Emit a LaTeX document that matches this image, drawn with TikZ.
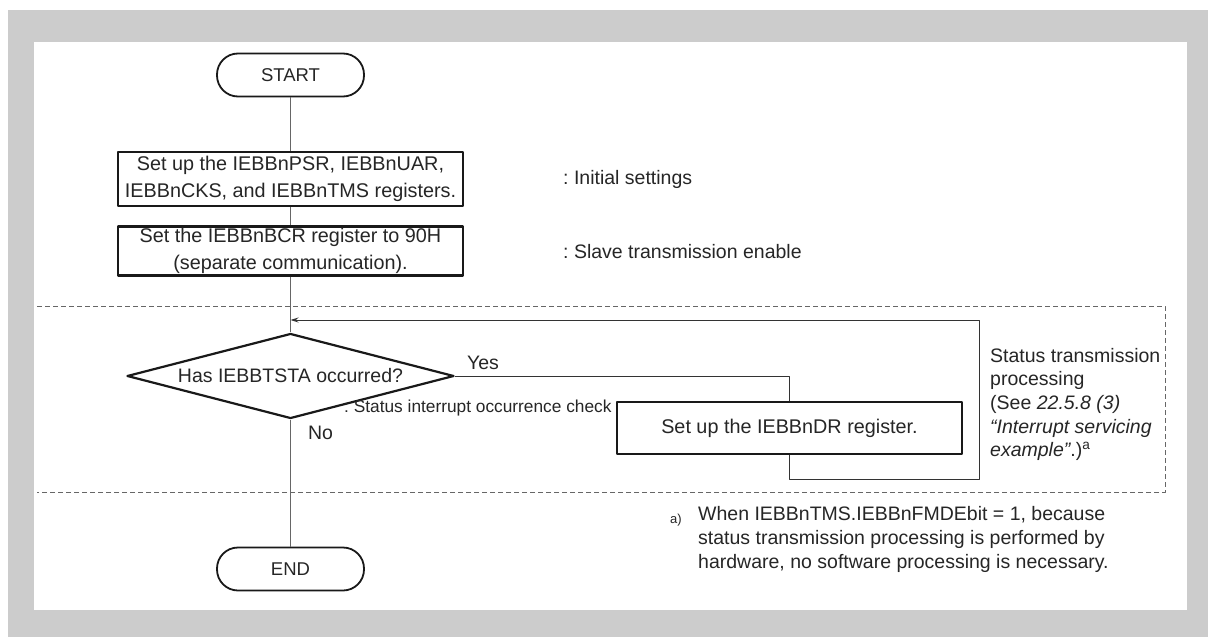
\documentclass[tikz,border=0pt]{standalone}
\usepackage{fontspec}
\setmainfont{Liberation Sans}
\usetikzlibrary{shapes.geometric,arrows.meta}
\frenchspacing
\begin{document}
\begin{tikzpicture}[x=1pt, y=-1pt, line join=round, >={Stealth[length=8pt,width=5pt]},
	font=\fontsize{19.5}{23.7}\selectfont, text=black!85,
	term/.style={draw=black!90, line width=1.8pt, rounded corners=21pt, minimum width=147pt, minimum height=43pt, inner sep=0pt, font=\fontsize{18.5}{22}\selectfont},
	procbox/.style={draw=black!90, line width=2.2pt, minimum width=345pt, inner sep=0pt, align=center, font=\fontsize{19.8}{27.5}\selectfont},
	decide/.style={draw=black!90, line width=2.2pt, diamond, shape aspect=3.85, minimum width=327pt, minimum height=85pt, inner sep=0pt},
	flow/.style={draw=black!60, line width=1pt},
	loopline/.style={draw=black!80, line width=1pt},
	note/.style={anchor=west, inner sep=0pt}]
	% page and frame
	\fill[white] (0,0) rectangle (1208,637);
	\fill[gray!40] (8,10) rectangle (1208,637);
	\fill[white] (34,42) rectangle (1187,610);
	\useasboundingbox (0,0) rectangle (1208,637);
	\draw[black!60, line width=0.9pt, dash pattern=on 5pt off 3pt] (37,306) -- (1165,306) -- (1165,492) -- (37,492);
	% flow
	\node[term] (start) at (290.5,75) {START};
	\node[procbox, minimum height=54pt] (init) at (290.5,179) {Set up the IEBBnPSR, IEBBnUAR,\\IEBBnCKS, and IEBBnTMS registers.};
	\node[procbox, minimum height=49pt] (bcr) at (290.5,251) {Set the IEBBnBCR register to 90H\\(separate communication).};
	\node[decide] (check) at (290.5,376) {Has IEBBTSTA occurred?};
	\node[procbox, minimum height=52pt] (setdr) at (789.5,428) {Set up the IEBBnDR register.};
	\node[term] (end) at (290.5,569) {END};
	\coordinate (loopbr) at (979,479);
	\coordinate (ret) at (290.5,320);
	\draw[flow] (start) -- (init);
	\draw[flow] (init) -- (bcr);
	\draw[flow] (bcr) -- (check);
	\draw[flow] (check) -- (end);
	\draw[loopline] (check.east) -- (setdr.north |- check.east) -- (setdr.north);
	\draw[loopline,->] (setdr.south) |- (loopbr) |- (ret);
	% labels
	\node (yes) at (483,363) {Yes};
	\node (no) at (320.5,433) {No};
	\node[note, font=\fontsize{17.3}{20}\selectfont] (chk) at (344,408) {: Status interrupt occurrence check};
	\node[note] (initnote) at (563,179) {: Initial settings};
	\node[note] (slavenote) at (563,251.5) {: Slave transmission enable};
	\node[note, align=left] (stnote) at (990,404.5) {Status transmission\\processing\\(See \textit{22.5.8 (3)}\\\textit{“Interrupt servicing}\\\textit{example”}.)\textsuperscript{a}};
	\node[inner sep=0pt, font=\fontsize{13}{15}\selectfont] (fnmark) at (676,520) {a)};
	\node[note, align=left] (fntext) at (698,539.5) {When IEBBnTMS.IEBBnFMDEbit = 1, because\\status transmission processing is performed by\\hardware, no software processing is necessary.};
\end{tikzpicture}
\end{document}
